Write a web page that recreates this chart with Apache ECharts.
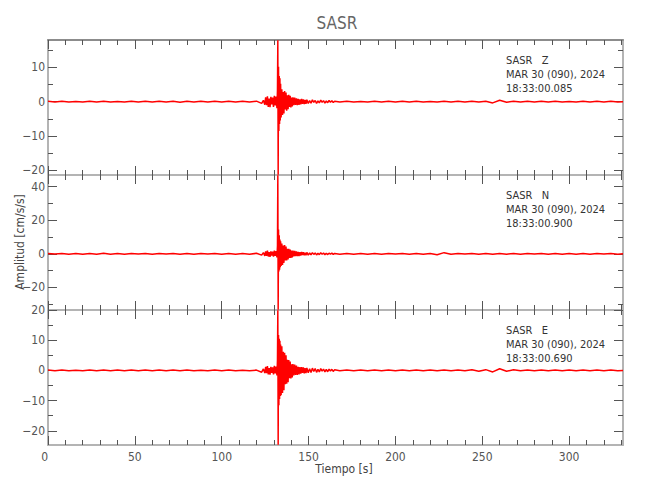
<!DOCTYPE html>
<html><head><meta charset="utf-8">
<script src="https://cdn.jsdelivr.net/npm/echarts@6/dist/echarts.min.js"></script>
<style>html,body{margin:0;padding:0;background:#fff}#c{width:650px;height:500px}</style>
</head><body><div id="c"></div>
<script>
const TITLE = 'SASR';
const X_TITLE = 'Tiempo [s]';
const Y_TITLE = 'Amplitud [cm/s/s]';

const TIME = [
  0,4,8,12,16,20,24,28,32,36,40,44,48,52,56,60,64,68,72,76,80,84,88,92,96,100,104,108,112,116,120,
  123,124,124.8,
  125.3,125.8,126.3,126.8,127.3,127.8,128.3,128.8,129.3,129.8,130.3,130.8,131.3,131.8,
  132.1,132.3,132.5,132.7,132.9,133.1,133.3,133.5,133.7,133.9,
  134.2,134.6,135.0,135.4,135.8,136.2,136.6,137.0,137.4,137.8,138.2,138.6,139.0,139.4,139.8,140.2,140.6,
  141.0,141.5,142.0,142.5,143.0,143.5,144.0,144.5,145.0,145.5,146.0,146.5,147.0,147.5,148.0,148.5,149.0,
  149.8,150.6,151.4,152.2,153.0,153.8,154.6,155.4,156.2,157.0,157.8,158.6,159.4,160.2,161.0,161.8,162.6,163.4,164.2,165.0,
  168,172,176,180,184,188,192,196,200,204,208,212,216,220,224,228,232,236,240,244,
  248,252,256,260,264,268,272,276,280,284,288,292,296,300,304,308,312,316,320,324,328,331
];

const AMP_Z = [
  0.1,-0.08,0.12,-0.1,0.08,-0.12,0.1,-0.1,0.15,-0.1,0.08,-0.12,0.1,-0.08,0.12,-0.1,0.1,-0.08,0.12,-0.15,0.1,-0.1,0.12,-0.08,0.1,-0.12,0.1,-0.1,0.12,-0.1,0.15,
  -0.5,0.4,-0.9,
  1.3,-1.0,1.6,-1.5,0.9,-1.6,1.4,-0.8,1.2,-1.5,1.7,-1.1,1.5,-1.9,
  3.5,17.9,-21.3,10.2,-8.5,7.5,-6.5,6.8,-5.5,5.2,
  -4.6,3.6,-3.9,2.8,-3.4,3.1,-2.3,2.7,-2.6,1.9,-2.2,2.0,-1.5,1.7,-1.7,1.2,-1.4,
  1.3,-1.0,1.2,-0.9,1.0,-1.0,0.8,-0.9,0.7,-0.8,0.8,-0.6,0.7,-0.7,0.5,-0.6,0.6,
  -0.5,0.3,-0.45,0.55,-0.2,0.35,-0.5,0.25,-0.35,0.45,-0.15,0.3,-0.4,0.2,-0.3,0.35,-0.15,0.3,-0.25,0.15,
  -0.1,0.12,-0.1,0.08,-0.12,0.1,-0.1,0.12,-0.08,0.1,-0.12,0.1,-0.1,0.08,-0.12,0.1,-0.1,0.12,-0.08,0.1,
  -0.12,0.15,-0.35,0.4,-0.15,0.1,-0.12,0.1,-0.08,0.12,-0.1,0.1,-0.12,0.08,-0.1,0.12,-0.1,0.1,-0.08,0.12,-0.1,0
];

const AMP_N = [
  0.2,-0.15,0.25,-0.2,0.15,-0.25,0.2,-0.2,0.3,-0.2,0.15,-0.25,0.2,-0.15,0.25,-0.2,0.2,-0.15,0.25,-0.3,0.2,-0.2,0.25,-0.15,0.2,-0.25,0.2,-0.2,0.25,-0.2,0.3,
  -0.8,0.7,-1.2,
  1.5,-1.2,1.9,-1.6,1.0,-1.8,1.5,-1.0,1.3,-1.7,1.9,-1.2,1.6,-2.2,
  5,46.9,-33.4,14.5,-10.5,11,-9.5,8.5,-8,7.5,
  -7.2,6.2,-6.6,5.0,-5.4,5.2,-3.9,4.3,-4.0,3.0,-3.4,3.0,-2.4,2.6,-2.5,1.9,-2.1,
  1.9,-1.5,1.7,-1.3,1.5,-1.4,1.1,-1.3,1.0,-1.1,1.1,-0.8,1.0,-0.9,0.7,-0.8,0.8,
  -0.75,0.5,-0.6,0.7,-0.35,0.55,-0.65,0.35,-0.5,0.6,-0.25,0.45,-0.5,0.3,-0.45,0.4,-0.2,0.4,-0.35,0.25,
  -0.2,0.25,-0.2,0.15,-0.25,0.2,-0.2,0.25,-0.15,0.2,-0.25,0.2,-0.2,0.15,-0.6,0.7,-0.25,0.2,-0.15,0.25,
  -0.2,0.2,-0.25,0.15,-0.2,0.25,-0.2,0.2,-0.15,0.25,-0.2,0.2,-0.25,0.15,-0.2,0.25,-0.2,0.2,-0.15,0.25,-0.2,0
];

const AMP_E = [
  0.12,-0.1,0.1,-0.12,0.08,-0.1,0.12,-0.1,0.1,-0.08,0.12,-0.15,0.1,-0.1,0.12,-0.08,0.1,-0.12,0.1,-0.1,0.15,-0.1,0.08,-0.12,0.1,-0.1,0.12,-0.1,0.08,-0.12,0.1,
  -0.6,0.5,-0.9,
  1.2,-0.9,1.4,-1.3,0.8,-1.4,1.2,-0.8,1.0,-1.3,1.5,-1.0,1.3,-1.7,
  3.5,19.9,-24.6,11.7,-11.5,10.5,-9.5,9.8,-8.5,8.6,
  -8.2,8.0,-7.5,6.2,-6.6,5.8,-4.6,5.0,-4.4,3.5,-3.9,3.4,-2.6,2.9,-2.7,2.0,-2.3,
  2.1,-1.7,1.9,-1.5,1.6,-1.5,1.2,-1.3,1.1,-1.1,1.1,-0.85,1.0,-0.95,0.75,-0.9,0.8,
  -0.8,0.55,-0.7,0.75,-0.35,0.6,-0.65,0.35,-0.5,0.6,-0.25,0.45,-0.5,0.3,-0.45,0.4,-0.2,0.35,-0.35,0.25,
  -0.12,0.1,-0.1,0.12,-0.08,0.1,-0.12,0.1,-0.1,0.12,-0.08,0.1,-0.12,0.1,-0.1,0.12,-0.08,0.1,-0.12,0.2,
  -0.3,0.25,-0.5,0.55,-0.3,0.2,-0.12,0.1,-0.1,0.12,-0.08,0.1,-0.12,0.1,-0.1,0.12,-0.08,0.1,-0.12,0.1,-0.1,0
];

const PANEL_TEXT = [
  ['SASR\u00a0\u00a0\u00a0Z', 'MAR 30 (090), 2024', '18:33:00.085'],
  ['SASR\u00a0\u00a0\u00a0N', 'MAR 30 (090), 2024', '18:33:00.900'],
  ['SASR\u00a0\u00a0\u00a0E', 'MAR 30 (090), 2024', '18:33:00.690']
];
const Y_MIN = [-21.35, -33.5, -24.7];
const Y_MAX = [17.97, 47.0, 20.0];
const Y_MAJOR = [[-20,-10,0,10], [-20,0,20,40], [-20,-10,0,10,20]];
const Y_MINOR = [[-15,-5,5,15], [-30,-10,10,30], [-15,-5,5,15]];
const X_MAX = 331;
const X_MAJOR = [0,50,100,150,200,250,300];
const X_MINOR = [10,20,30,40,60,70,80,90,110,120,130,140,160,170,180,190,210,220,230,240,260,270,280,290,310,320,330];

const FONT = "'Liberation Sans Narrow','DejaVu Sans Condensed',sans-serif";
const AXIS_COLOR = '#b4b4b4';
const TICK_COLOR = '#555';
const LABEL_COLOR = '#555';
const PANEL_TOPS = [40, 175, 310];
const PANEL_H = 135;

const fmt = v => String(v).replace('-', '\u2212');
const series = [AMP_Z, AMP_N, AMP_E];

const grids = [], xAxes = [], yAxes = [], seriesList = [], graphics = [];
PANEL_TOPS.forEach((top, p) => {
  grids.push({left: 48, right: 27, top: top, height: PANEL_H});
  const xBase = {type: 'value', gridIndex: p, min: 0, max: X_MAX, splitLine: {show: false}};
  const lineOn = (c) => ({show: true, onZero: false, lineStyle: {color: c || AXIS_COLOR, width: 2}});
  const lineOff = {show: false, onZero: false};
  xAxes.push(Object.assign({}, xBase, {position: 'bottom', axisLine: lineOn(),
    axisTick: {show: true, inside: true, length: 9, customValues: X_MAJOR, lineStyle: {color: TICK_COLOR}},
    axisLabel: p === 2 ? {show: true, customValues: X_MAJOR, margin: 6, color: LABEL_COLOR, fontSize: 12, fontFamily: FONT, alignMinLabel: 'right'} : {show: false}}));
  xAxes.push(Object.assign({}, xBase, {position: 'bottom', axisLine: lineOff,
    axisTick: {show: true, inside: true, length: 5, customValues: X_MINOR, lineStyle: {color: TICK_COLOR}},
    axisLabel: {show: false}}));
  xAxes.push(Object.assign({}, xBase, {position: 'top', axisLine: lineOn(p === 0 ? '#8c8c8c' : AXIS_COLOR),
    axisTick: {show: true, inside: true, length: 9, customValues: X_MAJOR, lineStyle: {color: TICK_COLOR}},
    axisLabel: {show: false}}));
  xAxes.push(Object.assign({}, xBase, {position: 'top', axisLine: lineOff,
    axisTick: {show: true, inside: true, length: 5, customValues: X_MINOR, lineStyle: {color: TICK_COLOR}},
    axisLabel: {show: false}}));

  const yBase = {type: 'value', gridIndex: p, min: Y_MIN[p], max: Y_MAX[p], splitLine: {show: false}};
  yAxes.push(Object.assign({}, yBase, {position: 'left', axisLine: lineOn(),
    axisTick: {show: true, inside: true, length: 9, customValues: Y_MAJOR[p], lineStyle: {color: TICK_COLOR}},
    axisLabel: {show: true, customValues: Y_MAJOR[p], margin: 3, color: LABEL_COLOR, fontSize: 12, fontFamily: FONT, formatter: fmt}}));
  yAxes.push(Object.assign({}, yBase, {position: 'left', axisLine: lineOff,
    axisTick: {show: true, inside: true, length: 5, customValues: Y_MINOR[p], lineStyle: {color: TICK_COLOR}},
    axisLabel: {show: false}}));
  yAxes.push(Object.assign({}, yBase, {position: 'right', axisLine: lineOn(),
    axisTick: {show: true, inside: true, length: 9, customValues: Y_MAJOR[p], lineStyle: {color: TICK_COLOR}},
    axisLabel: {show: false}}));
  yAxes.push(Object.assign({}, yBase, {position: 'right', axisLine: lineOff,
    axisTick: {show: true, inside: true, length: 5, customValues: Y_MINOR[p], lineStyle: {color: TICK_COLOR}},
    axisLabel: {show: false}}));

  const vals = series[p];
  const n = Math.min(TIME.length, vals.length);
  const data = [];
  for (let i = 0; i < n; i++) data.push([TIME[i], vals[i]]);
  seriesList.push({type: 'line', xAxisIndex: p * 4, yAxisIndex: p * 4, data: data,
    showSymbol: false, symbol: 'none', sampling: null, animation: false, z: 1,
    lineStyle: {color: '#ff0000', width: 1.5}});

  PANEL_TEXT[p].forEach((t, k) => {
    graphics.push({type: 'text', left: 506, top: top + 15 + k * 14,
      style: {text: t, fill: '#333', font: '11px ' + FONT}});
  });
});

graphics.push({type: 'text', x: 337, y: 23, style: {text: TITLE, fill: '#666', font: '17px ' + FONT, align: 'center', verticalAlign: 'middle'}});
graphics.push({type: 'text', x: 20, y: 242, rotation: Math.PI / 2,
  style: {text: Y_TITLE, fill: '#444', font: '12px ' + FONT, align: 'center', verticalAlign: 'middle'}});
graphics.push({type: 'text', x: 344, y: 469,
  style: {text: X_TITLE, fill: '#444', font: '12px ' + FONT, align: 'center', verticalAlign: 'middle'}});

const chart = echarts.init(document.getElementById('c'), null, {renderer: 'svg'});
chart.setOption({
  animation: false,
  backgroundColor: '#fff',
  grid: grids, xAxis: xAxes, yAxis: yAxes, series: seriesList, graphic: graphics
});
</script></body></html>
